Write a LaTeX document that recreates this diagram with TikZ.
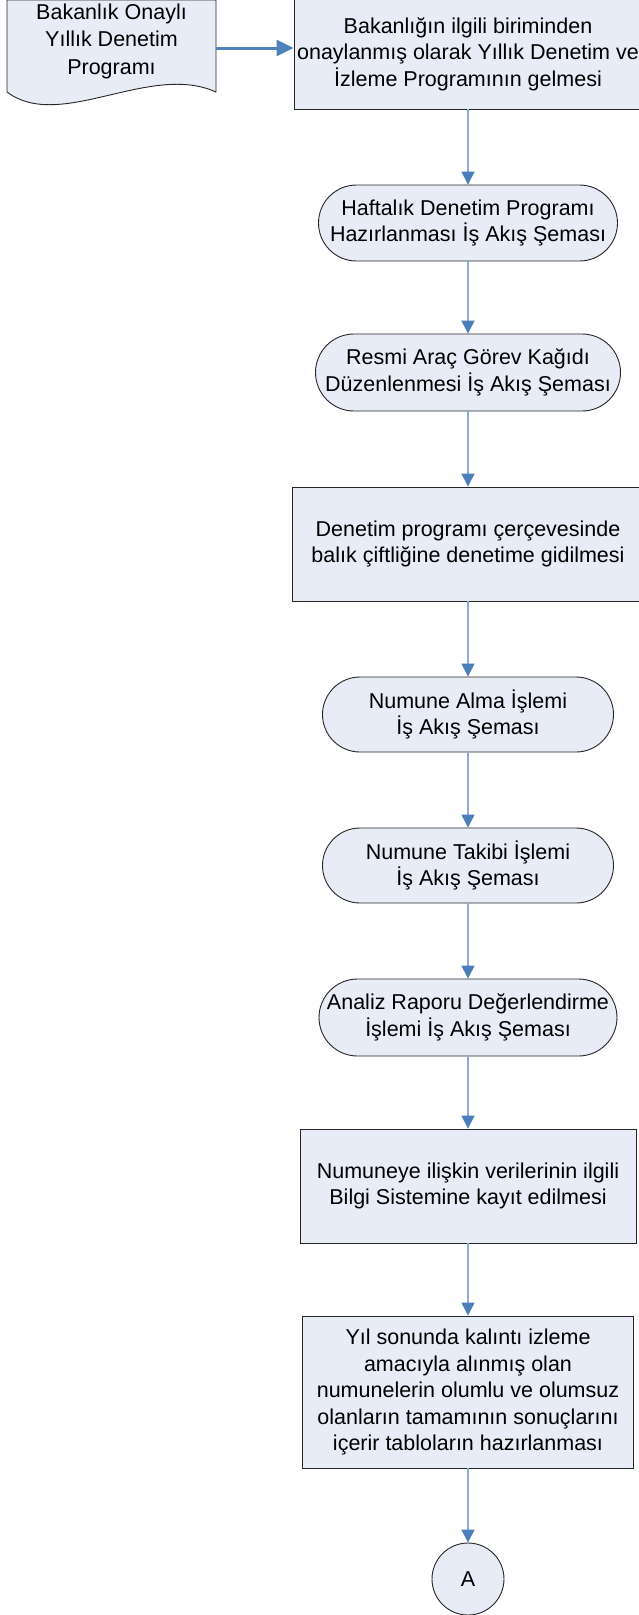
\documentclass[tikz,border=0pt]{standalone}
\usepackage{fontspec}
\setmainfont{Liberation Sans}
\usetikzlibrary{arrows.meta,shapes.misc}
\definecolor{boxfill}{RGB}{232,236,247}
\definecolor{linkblue}{RGB}{137,172,222}
\definecolor{tipblue}{RGB}{74,126,187}
\definecolor{mainblue}{RGB}{79,129,189}
\tikzset{
 base/.style={fill=boxfill, draw=black!85, line width=0.9pt, inner sep=0pt, align=center, font=\fontsize{21.5}{26.5}\selectfont},
 procbox/.style={base, rectangle},
 termbox/.style={base, rounded rectangle},
 conbox/.style={base, circle},
 conn/.style={draw=linkblue, line width=1.4pt, -{Triangle[length=13pt,width=13pt,color=tipblue]}},
 mainconn/.style={draw=mainblue, line width=3pt, -{Triangle[length=17pt,width=16pt,color=mainblue]}},
 doctext/.style={inner sep=0pt, align=center, font=\fontsize{21.5}{27.5}\selectfont},
}
\begin{document}
\begin{tikzpicture}[x=1pt,y=-1pt]
\useasboundingbox (0,0) rectangle (639,1615);
% document shape
\filldraw[fill=boxfill, draw=black!85, line width=0.9pt]
  (7,0) -- (216,0) -- (216,92) .. controls (150,62) and (60,132) .. (7,92) -- cycle;
\node (doc) [inner sep=0pt, minimum width=209pt, minimum height=96pt] at (111.5,48) {};
\node (doctxt) [doctext] at (111.5,41) {Bakanlık Onaylı\\Yıllık Denetim\\Programı};

\node (b1) [procbox, minimum width=348pt, minimum height=110pt] at (468,54)
  {Bakanlığın ilgili biriminden\\onaylanmış olarak Yıllık Denetim ve\\İzleme Programının gelmesi};
\node (t1) [termbox, minimum width=299pt, minimum height=76pt] at (468,223)
  {Haftalık Denetim Programı\\Hazırlanması İş Akış Şeması};
\node (t2) [termbox, minimum width=305pt, minimum height=77pt] at (468,372.5)
  {Resmi Araç Görev Kağıdı\\Düzenlenmesi İş Akış Şeması};
\node (b2) [procbox, minimum width=352pt, minimum height=114pt] at (468,544)
  {Denetim programı çerçevesinde\\balık çiftliğine denetime gidilmesi};
\node (t3) [termbox, minimum width=291pt, minimum height=75pt] at (468,714.5)
  {Numune Alma İşlemi\\İş Akış Şeması};
\node (t4) [termbox, minimum width=291pt, minimum height=75pt] at (468,865.5)
  {Numune Takibi İşlemi\\İş Akış Şeması};
\node (t5) [termbox, minimum width=291pt, minimum height=77pt] at (468,1017.5)
  {Analiz Raporu Değerlendirme\\İşlemi İş Akış Şeması};
\node (b3) [procbox, minimum width=336pt, minimum height=114pt] at (468,1186)
  {Numuneye ilişkin verilerinin ilgili\\Bilgi Sistemine kayıt edilmesi};
\node (b4) [procbox, minimum width=331pt, minimum height=152pt] at (468,1392)
  {Yıl sonunda kalıntı izleme\\amacıyla alınmış olan\\numunelerin olumlu ve olumsuz\\olanların tamamının sonuçlarını\\içerir tabloların hazırlanması};
\node (ca) [conbox, minimum size=72pt] at (468,1579) {A};

\draw[mainconn] (doc.east) -- (doc.east -| b1.west);
\draw[conn] (b1.south) -- (t1.north);
\draw[conn] (t1.south) -- (t2.north);
\draw[conn] (t2.south) -- (b2.north);
\draw[conn] (b2.south) -- (t3.north);
\draw[conn] (t3.south) -- (t4.north);
\draw[conn] (t4.south) -- (t5.north);
\draw[conn] (t5.south) -- (b3.north);
\draw[conn] (b3.south) -- (b4.north);
\draw[conn] (b4.south) -- (ca.north);
\end{tikzpicture}
\end{document}
